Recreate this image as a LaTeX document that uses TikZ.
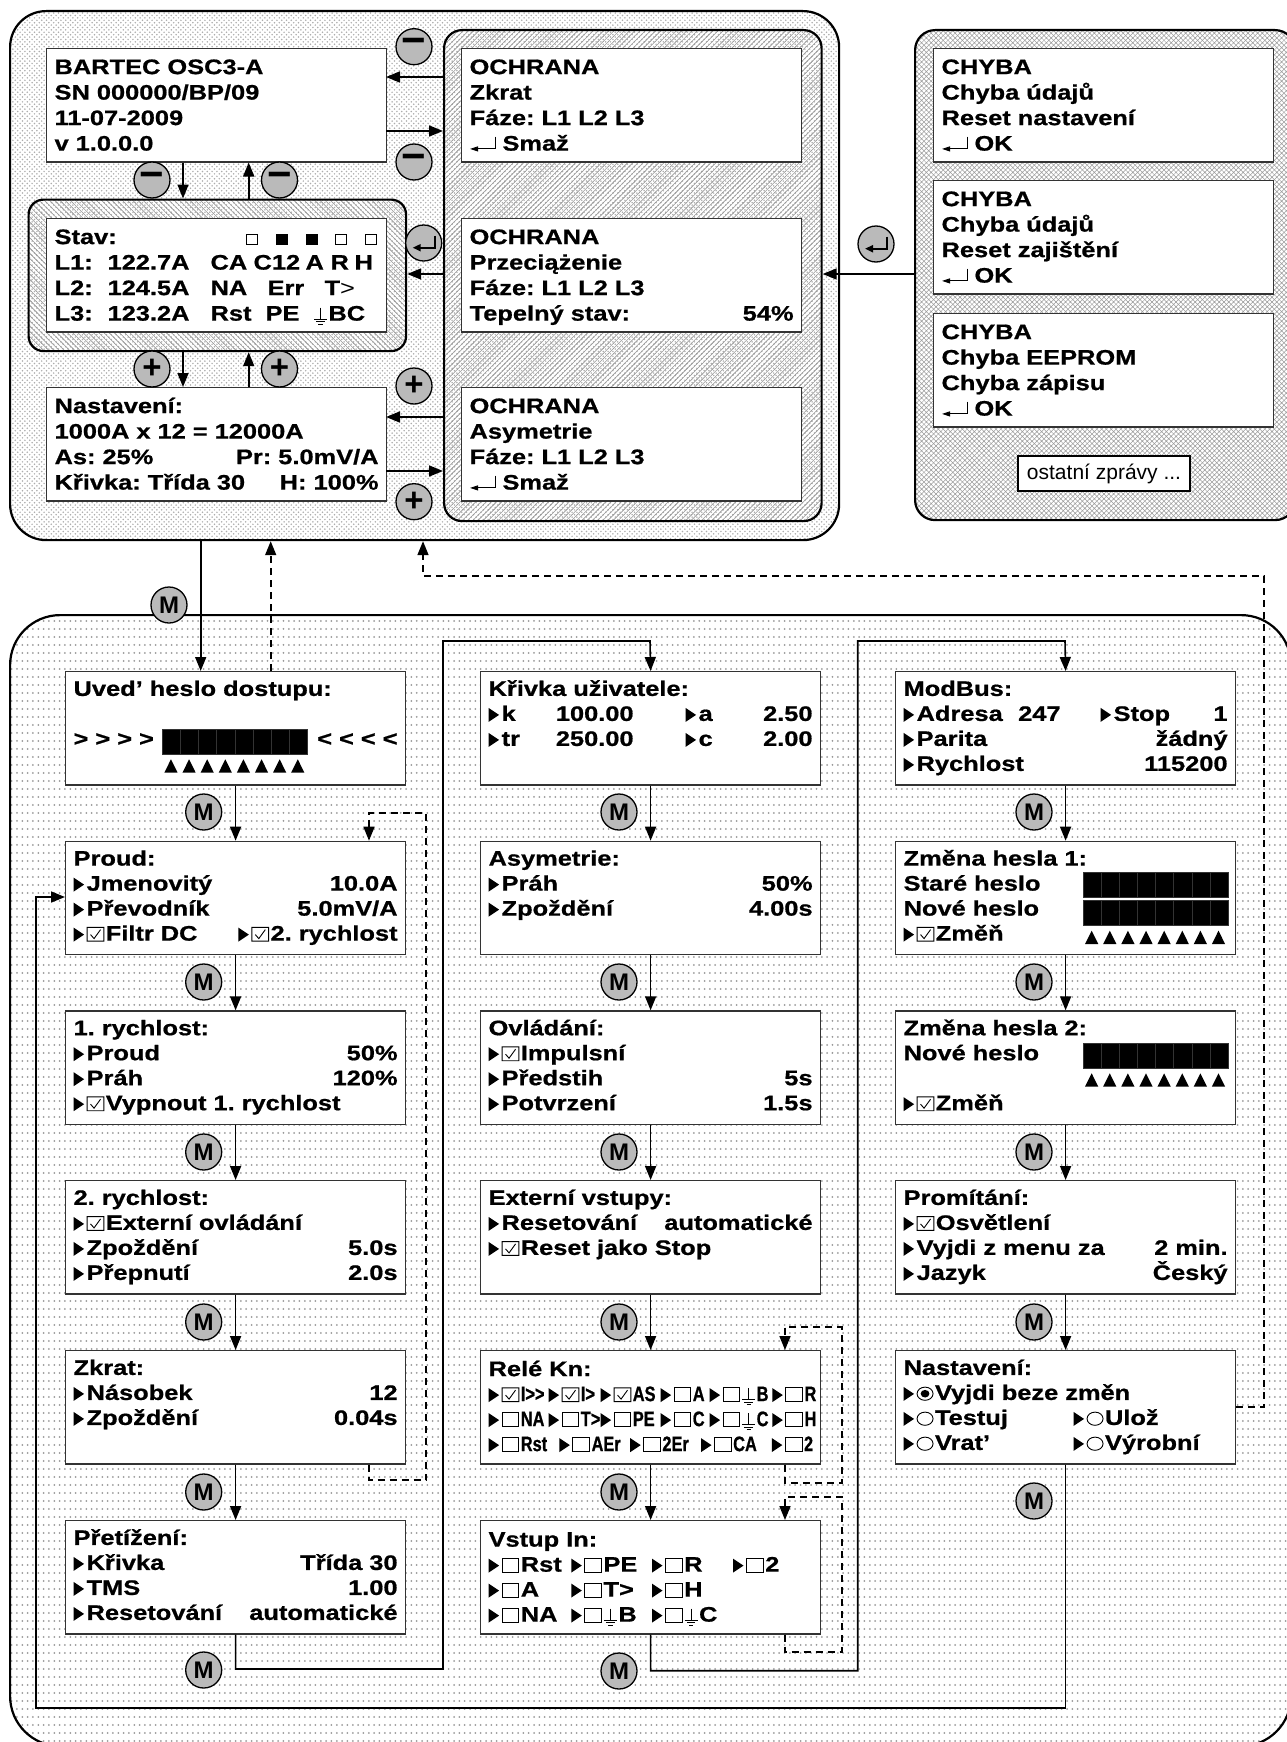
\documentclass[tikz,border=0pt]{standalone}
\usepackage{fontspec}
\setmainfont{Liberation Sans}
\newfontfamily\scrfont[FakeStretch=1.21,WordSpace=.85,BoldFeatures={FakeBold=.8}]{Liberation Sans}
\newfontfamily\relfont[FakeStretch=.78,BoldFeatures={FakeBold=.8}]{Liberation Sans}
\usetikzlibrary{arrows.meta,positioning,patterns}

\pgfdeclarepatternformonly{densedots}{\pgfqpoint{-1pt}{-1pt}}{\pgfqpoint{5pt}{5pt}}{\pgfqpoint{4.8pt}{4.8pt}}{%
  \pgfpathcircle{\pgfqpoint{0.9pt}{0.9pt}}{0.85pt}\pgfpathcircle{\pgfqpoint{3.3pt}{3.3pt}}{0.85pt}\pgfusepath{fill}}
\pgfdeclarepatternformonly{sparsedots}{\pgfqpoint{-1pt}{-1pt}}{\pgfqpoint{6pt}{9pt}}{\pgfqpoint{5.33pt}{8pt}}{%
  \pgfpathcircle{\pgfqpoint{1pt}{1pt}}{1pt}\pgfusepath{fill}}
\pgfdeclarepatternformonly{hatchfw}{\pgfqpoint{-1pt}{-1pt}}{\pgfqpoint{6pt}{6pt}}{\pgfqpoint{5.2pt}{5.2pt}}{%
  \pgfsetlinewidth{0.6pt}\pgfpathmoveto{\pgfqpoint{-0.5pt}{-0.5pt}}\pgfpathlineto{\pgfqpoint{5.7pt}{5.7pt}}\pgfusepath{stroke}}
\pgfdeclarepatternformonly{hatchbk}{\pgfqpoint{-1pt}{-1pt}}{\pgfqpoint{6pt}{6pt}}{\pgfqpoint{5.2pt}{5.2pt}}{%
  \pgfsetlinewidth{0.6pt}\pgfpathmoveto{\pgfqpoint{-0.5pt}{5.7pt}}\pgfpathlineto{\pgfqpoint{5.7pt}{-0.5pt}}\pgfusepath{stroke}}
\pgfdeclarepatternformonly{meshgrid}{\pgfqpoint{-1pt}{-1pt}}{\pgfqpoint{6pt}{6pt}}{\pgfqpoint{4.8pt}{4.8pt}}{%
  \pgfsetlinewidth{0.5pt}\pgfpathmoveto{\pgfqpoint{-0.5pt}{-0.5pt}}\pgfpathlineto{\pgfqpoint{5.3pt}{5.3pt}}%
  \pgfpathmoveto{\pgfqpoint{-0.5pt}{5.3pt}}\pgfpathlineto{\pgfqpoint{5.3pt}{-0.5pt}}\pgfusepath{stroke}}

\newcommand{\mk}{\tikz[baseline=0pt]\fill[black] (0pt,-1pt) -- (10.5pt,6pt) -- (0pt,13pt) -- cycle;\kern2.5pt}
\newcommand{\cbx}{\tikz[baseline=0pt]\draw[black,line width=.9pt] (0pt,-.5pt) rectangle (16.8pt,13.3pt);\kern1.5pt}
\newcommand{\chk}{\tikz[baseline=0pt]\draw[black,line width=.9pt] (0pt,-.5pt) rectangle (16.8pt,13.3pt) (3.5pt,6pt) -- (7pt,2pt) -- (13.5pt,11pt);\kern1.5pt}
\newcommand{\rdo}{\tikz[baseline=0pt]\draw[black,line width=.9pt] (8.4pt,6.2pt) ellipse (8pt and 6.6pt);\kern1.5pt}
\newcommand{\rdoset}{\tikz[baseline=0pt]{\draw[black,line width=.9pt] (8.4pt,6.2pt) ellipse (8pt and 6.6pt); \fill[black] (8.4pt,6.2pt) ellipse (4.4pt and 3.8pt);}\kern1.5pt}
\newcommand{\earth}{\tikz[baseline=0pt]\draw[black,line width=.9pt] (6.5pt,13pt) -- (6.5pt,1.5pt) (0pt,1.5pt) -- (13pt,1.5pt) (2.2pt,-1pt) -- (10.8pt,-1pt) (4.4pt,-3.5pt) -- (8.6pt,-3.5pt);\kern1pt}
\newcommand{\ret}{\tikz[baseline=0pt]\draw[black,line width=.9pt,-{Triangle[length=8pt,width=5pt]}] (25pt,14pt) -- (25pt,1.7pt) -- (0pt,1.7pt);\kern7pt}
\newcommand{\retbig}{\tikz\draw[black,line width=1.9pt,-{Triangle[length=8pt,width=7pt]}] (22pt,15pt) -- (22pt,3pt) -- (0pt,3pt);}
\newcommand{\col}[2]{\makebox[#1pt][l]{#2}}
\newcommand{\pwbar}[2]{\foreach \k in {0,...,7} \filldraw[fill=black,draw=black!80,line width=.4pt] (#1+18.12*\k,#2) rectangle ++(18.12,25.6);}
\newcommand{\pwup}[2]{\foreach \k in {0,...,7} \fill[black] (#1+2+18.12*\k,#2+13.4) -- ++(13.3,0) -- ++(-6.65,-13.4) -- cycle;}

\begin{document}
\begin{tikzpicture}[x=1pt,y=-1pt,
  panel/.style={rectangle,anchor=north west,draw=black,line width=2.2pt,inner sep=0pt},
  screen/.style={rectangle,anchor=north west,draw=black!80,line width=1.2pt,fill=white,inner xsep=8pt,inner ysep=7pt,
    text width=324pt,align=left,text height=17.3pt,text depth=82pt,font=\scrfont\bfseries\fontsize{21pt}{25pt}\selectfont\frenchspacing},
  topscreen/.style={screen,text height=18.5pt,text depth=80.8pt,font=\scrfont\bfseries\fontsize{21pt}{25.5pt}\selectfont\frenchspacing},
  btn/.style={circle,draw=black,line width=1.3pt,fill=black!27,minimum size=36pt,inner sep=0pt,font=\bfseries\fontsize{24pt}{24pt}\selectfont},
  plusbtn/.style={btn,font=\bfseries\fontsize{33pt}{33pt}\selectfont},
  minusbtn/.style={btn,font=\bfseries\fontsize{42pt}{42pt}\selectfont},
  flow/.style={line width=1.6pt,-{Triangle[length=14pt,width=11pt]}},
  back/.style={line width=1.6pt,dash pattern=on 7pt off 5pt,-{Triangle[length=14pt,width=11pt]}},
  led/.style={rectangle,draw=black,line width=.7pt,minimum width=11pt,minimum height=10pt,inner sep=0pt}]
  \useasboundingbox (0,0) rectangle (1287,1742);
  \clip (0,0) rectangle (1287,1742);
  \node[panel,minimum width=829pt,minimum height=529pt,rounded corners=36pt,pattern=densedots,pattern color=black!32] (main) at (9,10) {};
  \node[panel,minimum width=377.5pt,minimum height=151.5pt,rounded corners=15pt,pattern=hatchbk,pattern color=black!40] (hstav) at (27.5,198.5) {};
  \node[panel,minimum width=377.5pt,minimum height=491pt,rounded corners=18pt,pattern=hatchfw,pattern color=black!40] (prot) at (443,29) {};
  \node[panel,minimum width=380pt,minimum height=490pt,rounded corners=20pt,pattern=meshgrid,pattern color=black!38] (err) at (914,29) {};
  \node[panel,minimum width=1281pt,minimum height=1131pt,rounded corners=50pt,pattern=sparsedots,pattern color=black!40] (menu) at (9,614) {};

  \node[topscreen] (bartec) at (46,48) {BARTEC OSC3-A\\SN 000000/BP/09\\11-07-2009\\v 1.0.0.0};
  \node[topscreen] (stav) at (46,218) {Stav:\\
    \col{53}{L1:}\col{103}{122.7A}\col{43}{CA}\col{52}{C12}\col{25}{A}\col{24}{R}H\\
    \col{53}{L2:}\col{103}{124.5A}\col{57}{NA}\col{57}{Err}T{\mdseries >}\\
    \col{53}{L3:}\col{103}{123.2A}\col{55}{Rst}\col{48}{PE}\earth BC};
  \node[topscreen] (nast) at (46,387) {Nastavení:\\1000A x 12 = 12000A\\As: 25\%\hfill Pr: 5.0mV/A\\Křivka: Třída 30\hfill H: 100\%};
  \foreach \i/\x/\c in {1/252/white,2/282/black,3/311.5/black,4/341/white,5/370.6/white} \node[led,fill=\c] (led\i) at (\x,239) {};

  \node[topscreen] (zkr) at (461,48) {OCHRANA\\Zkrat\\Fáze: L1 L2 L3\\\ret Smaž};
  \node[topscreen] (pre) at (461,218) {OCHRANA\\Przeciążenie\\Fáze: L1 L2 L3\\Tepelný stav:\hfill 54\%};
  \node[topscreen] (asy) at (461,387) {OCHRANA\\Asymetrie\\Fáze: L1 L2 L3\\\ret Smaž};

  \node[topscreen] (err1) at (933,48) {CHYBA\\Chyba údajů\\Reset nastavení\\\ret OK};
  \node[topscreen] (err2) at (933,180) {CHYBA\\Chyba údajů\\Reset zajištění\\\ret OK};
  \node[topscreen] (err3) at (933,313) {CHYBA\\Chyba EEPROM\\Chyba zápisu\\\ret OK};
  \node[rectangle,anchor=north west,draw=black,line width=2pt,fill=white,minimum width=172pt,minimum height=35pt,inner sep=0pt,font=\fontsize{21pt}{25pt}\selectfont] (other) at (1017,455) {ostatní zprávy ...};

  \node[screen] (uved) at (65,671) {Uved’ heslo dostupu:\\~\\> > > >\hfill < < < <\\~};
  \node[screen] (proud) at (65,840.7) {Proud:\\\mk Jmenovitý\hfill 10.0A\\\mk Převodník\hfill 5.0mV/A\\\mk\chk Filtr DC\hfill\mk\chk 2. rychlost};
  \node[screen] (rych1) at (65,1010.3) {1. rychlost:\\\mk Proud\hfill 50\%\\\mk Práh\hfill 120\%\\\mk\chk Vypnout 1. rychlost};
  \node[screen] (rych2) at (65,1180) {2. rychlost:\\\mk\chk Externí ovládání\\\mk Zpoždění\hfill 5.0s\\\mk Přepnutí\hfill 2.0s};
  \node[screen] (zkrat) at (65,1350) {Zkrat:\\\mk Násobek\hfill 12\\\mk Zpoždění\hfill 0.04s\\~};
  \node[screen] (pret) at (65,1520) {Přetížení:\\\mk Křivka\hfill Třída 30\\\mk TMS\hfill 1.00\\\mk Resetování\hfill automatické};

  \node[screen] (krivka) at (480,671) {Křivka uživatele:\\\makebox[145pt]{\mk k\hfill 100.00}\hspace{52pt}\mk a\hfill 2.50\\\makebox[145pt]{\mk tr\hfill 250.00}\hspace{52pt}\mk c\hfill 2.00\\~};
  \node[screen] (asym) at (480,840.7) {Asymetrie:\\\mk Práh\hfill 50\%\\\mk Zpoždění\hfill 4.00s\\~};
  \node[screen] (ovl) at (480,1010.3) {Ovládání:\\\mk\chk Impulsní\\\mk Předstih\hfill 5s\\\mk Potvrzení\hfill 1.5s};
  \node[screen] (ext) at (480,1180) {Externí vstupy:\\\mk Resetování\hfill automatické\\\mk\chk Reset jako Stop\\~};
  \node[screen,text height=18.5pt,text depth=80.8pt] (rele) at (480,1350) {Relé Kn:\\\relfont\bfseries
    \col{60}{\mk\chk I>>}\col{52}{\mk\chk I>}\col{60}{\mk\chk AS}\col{49}{\mk\cbx A}\col{62.7}{\mk\cbx\earth B}\mk\cbx R\\
    \col{60}{\mk\cbx NA}\col{52}{\mk\cbx T>}\col{60}{\mk\cbx PE}\col{49}{\mk\cbx C}\col{62.7}{\mk\cbx\earth C}\mk\cbx H\\
    \col{70.8}{\mk\cbx Rst}\col{70.8}{\mk\cbx AEr}\col{70.8}{\mk\cbx 2Er}\col{70.8}{\mk\cbx CA}\mk\cbx 2};
  \node[screen,text height=19pt,text depth=80.3pt] (vstup) at (480,1520) {Vstup In:\\
    \col{82.7}{\mk\cbx Rst}\col{80.7}{\mk\cbx PE}\col{81}{\mk\cbx R}\mk\cbx 2\\
    \col{82.7}{\mk\cbx A}\col{80.7}{\mk\cbx T>}\mk\cbx H\\
    \col{82.7}{\mk\cbx NA}\col{80.7}{\mk\cbx\earth B}\mk\cbx\earth C};

  \node[screen] (modbus) at (895,671) {ModBus:\\\makebox[157pt]{\mk Adresa\hfill 247}\hspace{40pt}\mk Stop\hfill 1\\\mk Parita\hfill žádný\\\mk Rychlost\hfill 115200};
  \node[screen] (zm1) at (895,840.7) {Změna hesla 1:\\Staré heslo\\Nové heslo\\\mk\chk Změň};
  \node[screen] (zm2) at (895,1010.3) {Změna hesla 2:\\Nové heslo\\~\\\mk\chk Změň};
  \node[screen] (prom) at (895,1180) {Promítání:\\\mk\chk Osvětlení\\\mk Vyjdi z menu za\hfill 2 min.\\\mk Jazyk\hfill Český};
  \node[screen] (nasta) at (895,1350) {Nastavení:\\\mk\rdoset Vyjdi beze změn\\\col{170}{\mk\rdo Testuj}\mk\rdo Ulož\\\col{170}{\mk\rdo Vrat’}\mk\rdo Výrobní};

  \pwbar{162.3}{728.7} \pwup{162.3}{759.3}
  \pwbar{1083}{871.7} \pwbar{1083}{899.7} \pwup{1083}{930.7}
  \pwbar{1083}{1042.7} \pwup{1083}{1073.3}

  \foreach \a/\b in {uved/proud,proud/rych1,rych1/rych2,rych2/zkrat,zkrat/pret,krivka/asym,asym/ovl,ovl/ext,ext/rele,rele/vstup,modbus/zm1,zm1/zm2,zm2/prom,prom/nasta} \draw[flow] (\a) -- (\b);
  \foreach \y in {77,417} \draw[flow] (prot.west |- 0,\y) -- (386,\y);
  \draw[flow] (prot.west |- 0,274) -- (hstav.east |- 0,274);
  \foreach \y in {131,471} \draw[flow] (386,\y) -- (prot.west |- 0,\y);
  \draw[flow] (bartec.south -| 183,0) -- (hstav.north -| 183,0);
  \draw[flow] (hstav.north -| 248.7,0) -- (bartec.south -| 248.7,0);
  \draw[flow] (hstav.south -| 183,0) -- (nast.north -| 183,0);
  \draw[flow] (nast.north -| 248.7,0) -- (hstav.south -| 248.7,0);
  \draw[flow] (err.west |- 0,274) -- (prot.east |- 0,274);
  \draw[flow] (main.south -| 200.7,0) -- (uved.north -| 200.7,0);
  \draw[back] (uved.north -| 270.7,0) -- (main.south -| 270.7,0);
  \draw[back] (nasta.east |- 0,1407) -| (1264,576) -| (main.south -| 423,0);
  \draw[flow] (pret.south) |- (443,1669) |- (650,641) -- (krivka.north);
  \draw[flow] (vstup.south) |- (857.7,1670.7) |- (1065,641) -- (modbus.north);
  \draw[flow] (nasta.south) |- (36,1708) |- (proud.west |- 0,897);
  \draw[back] (zkrat.south -| 369,0) |- (426,1480) |- (369,812.7) -- (proud.north -| 369,0);
  \draw[back] (rele.south -| 785,0) |- (841.7,1482.7) |- (785,1327) -- (rele.north -| 785,0);
  \draw[back] (vstup.south -| 785,0) |- (841.7,1652) |- (785,1497) -- (vstup.north -| 785,0);

  \node[minusbtn] (minus1) at (414,46.7) {−};
  \node[minusbtn] (minus2) at (414,162) {−};
  \node[minusbtn] (minus3) at (152,180) {−};
  \node[minusbtn] (minus4) at (279.5,180) {−};
  \node[plusbtn] (plus1) at (152,369) {+};
  \node[plusbtn] (plus2) at (279.5,369) {+};
  \node[plusbtn] (plus3) at (414,386) {+};
  \node[plusbtn] (plus4) at (414,501.7) {+};
  \node[btn] (enter1) at (423.7,243) {\retbig};
  \node[btn] (enter2) at (876,244) {\retbig};
  \node[btn] (mtop) at (169,605) {M};
  \foreach \c/\x in {a/203.7,b/619,c/1034} \foreach \r/\y in {1/812,2/982,3/1152,4/1322} \node[btn] (m\c\r) at (\x,\y) {M};
  \node[btn] (ma5) at (203.7,1492) {M};
  \node[btn] (mb5) at (619,1492) {M};
  \node[btn] (mend1) at (203.7,1670) {M};
  \node[btn] (mend2) at (619,1671) {M};
  \node[btn] (mend3) at (1034,1501) {M};
\end{tikzpicture}
\end{document}
